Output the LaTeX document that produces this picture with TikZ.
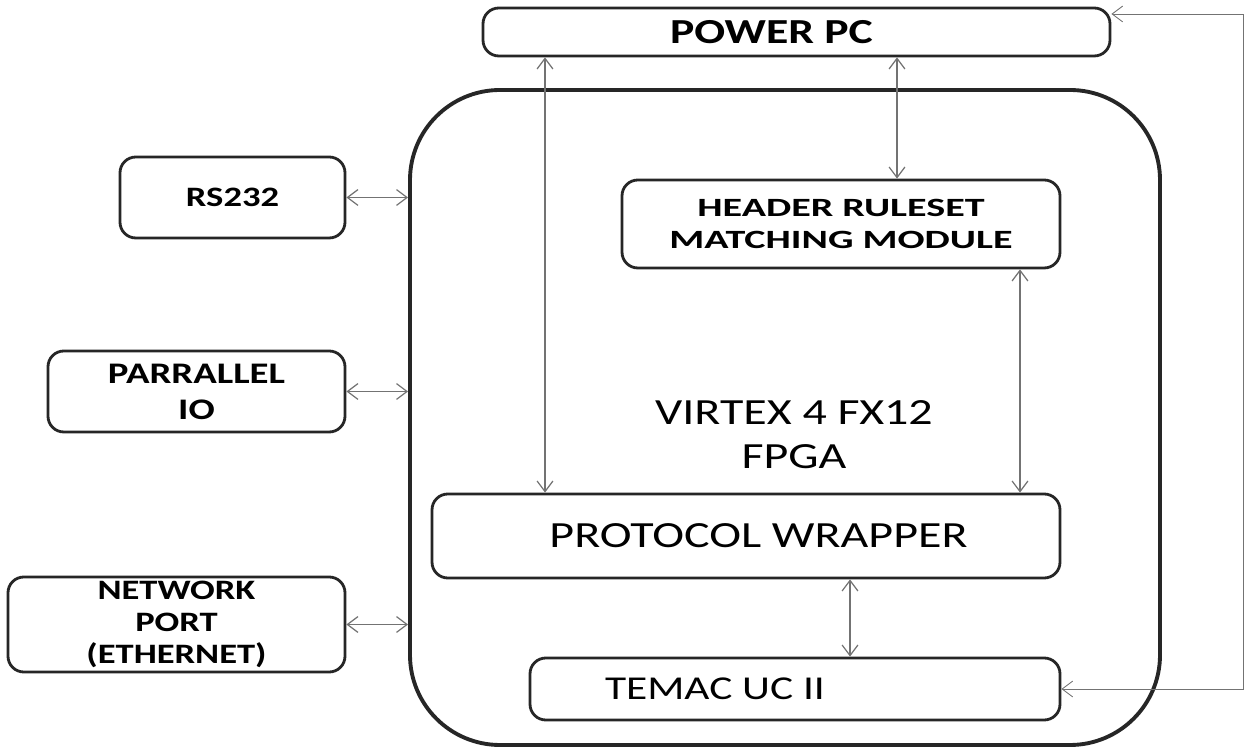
\documentclass[tikz,border=0pt]{standalone}
\usepackage{fontspec}
\setmainfont[FakeStretch=1.3]{Carlito}
\newfontfamily\widefont[FakeStretch=1.52]{Carlito}
\usepackage{tikz}
\usetikzlibrary{arrows.meta}
\newcommand{\fsz}[1]{\fontsize{#1}{1.2\dimexpr#1pt\relax}\selectfont}

\begin{document}
\begin{tikzpicture}[>={Straight Barb[length=6pt,width=9pt]},
  blk/.style={draw=black!85, line width=1.6pt, rounded corners=9pt, align=center, inner sep=0pt},
  link/.style={<->, draw=black!55, line width=0.7pt}]
  \useasboundingbox (0,0) rectangle (24.94,15.04);
  % the fpga and what sits in it
  \node[draw=black!85, line width=2.2pt, rounded corners=1.8cm, minimum width=15cm, minimum height=13.1cm] (fpga) at (15.7,6.69) {};
  \node[align=center, font=\fsz{21}] (virtex) at (15.88,6.35) {VIRTEX 4 FX12\\FPGA};
  \node[blk, minimum width=12.54cm, minimum height=0.96cm, font=\bfseries\fsz{20}] (ppc) at (15.93,14.4) {POWER PC\hspace*{1cm}};
  \node[blk, minimum width=8.76cm, minimum height=1.76cm, font=\widefont\bfseries\fsz{15}] (hdr) at (16.82,10.56) {HEADER RULESET\\MATCHING MODULE};
  \node[blk, minimum width=12.56cm, minimum height=1.68cm, font=\fsz{21}] (pw) at (14.92,4.32) {\hspace*{0.5cm}PROTOCOL WRAPPER};
  \node[blk, minimum width=10.6cm, minimum height=1.24cm, font=\fsz{19}] (tm) at (15.9,1.26) {TEMAC UC II\hspace*{3.2cm}};
  % outside blocks
  \node[blk, minimum width=4.5cm, minimum height=1.62cm, font=\bfseries\fsz{16}] (rs) at (4.65,11.09) {RS232};
  \node[blk, minimum width=5.94cm, minimum height=1.62cm, font=\bfseries\fsz{17}] (pio) at (3.93,7.21) {PARRALLEL\\IO};
  \node[blk, minimum width=6.74cm, minimum height=1.9cm, font=\bfseries\fontsize{16}{18}\selectfont] (net) at (3.53,2.55) {NETWORK\\PORT\\(ETHERNET)};
  % links
  \coordinate (c1) at (10.9,0);
  \coordinate (c2) at (17.94,0);
  \coordinate (c3) at (20.4,0);
  \coordinate (c4) at (17.0,0);
  \coordinate (fb) at (24.86,14.76);
  \draw[link] (ppc.south -| c1) -- (pw.north -| c1);
  \draw[link] (ppc.south -| c2) -- (hdr.north -| c2);
  \draw[link] (hdr.south -| c3) -- (pw.north -| c3);
  \draw[link] (pw.south -| c4) -- (tm.north -| c4);
  \foreach \b in {rs,pio,net} \draw[link] (\b.east) -- (\b.east -| fpga.west);
  \draw[link, line width=0.5pt] (tm.east) -| (fb) -- (ppc.east |- fb);
\end{tikzpicture}
\end{document}
